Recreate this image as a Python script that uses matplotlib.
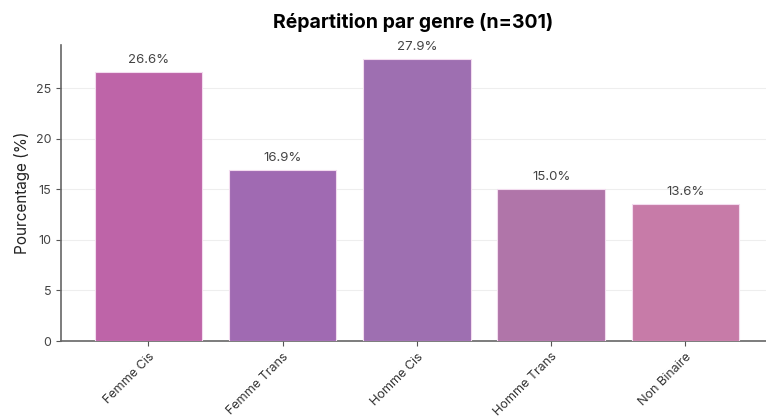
import matplotlib.pyplot as plt
import numpy as np

plt.rcParams['font.family'] = ['Inter', 'DejaVu Sans']

categories = ['Femme Cis', 'Femme Trans', 'Homme Cis', 'Homme Trans', 'Non Binaire']
percentages = [26.6, 16.9, 27.9, 15.0, 13.6]
colors = ['#BE64A8', '#A06AB2', '#9E6FB1', '#B075A9', '#C77BA8']

fig = plt.figure(figsize=(7.66, 4.19), dpi=100)
ax = fig.add_axes([61 / 766, 1 - 341 / 419, 705 / 766, 296 / 419])

x = np.arange(len(categories))
bars = ax.bar(x, percentages, width=0.8, color=colors, edgecolor='#f3dcef', linewidth=0.8, zorder=3)

for bar, v in zip(bars, percentages):
    ax.text(bar.get_x() + bar.get_width() / 2, v + 0.6, f'{v:.1f}%',
            ha='center', va='bottom', fontsize=9.5, color='#444444')

ax.set_xlim(-0.65, 4.6)
ax.set_ylim(0, 29.3)
ax.set_xticks(x)
ax.set_xticklabels(categories, rotation=45, ha='right', rotation_mode='anchor', fontsize=9, color='#333333')
ax.tick_params(axis='y', labelsize=9, colors='#444444')
ax.tick_params(axis='both', color='#555555')
ax.set_ylabel('Pourcentage (%)', fontsize=11, color='#222222')
ax.set_title('Répartition par genre (n=301)', fontsize=14, fontweight='bold', pad=12)
ax.grid(axis='y', color='#eeeeee', linewidth=0.8, zorder=0)
ax.spines['top'].set_visible(False)
ax.spines['right'].set_visible(False)
for s in ['left', 'bottom']:
    ax.spines[s].set_color('#666666')
    ax.spines[s].set_linewidth(1.2)

plt.savefig('out.png', dpi=100)
